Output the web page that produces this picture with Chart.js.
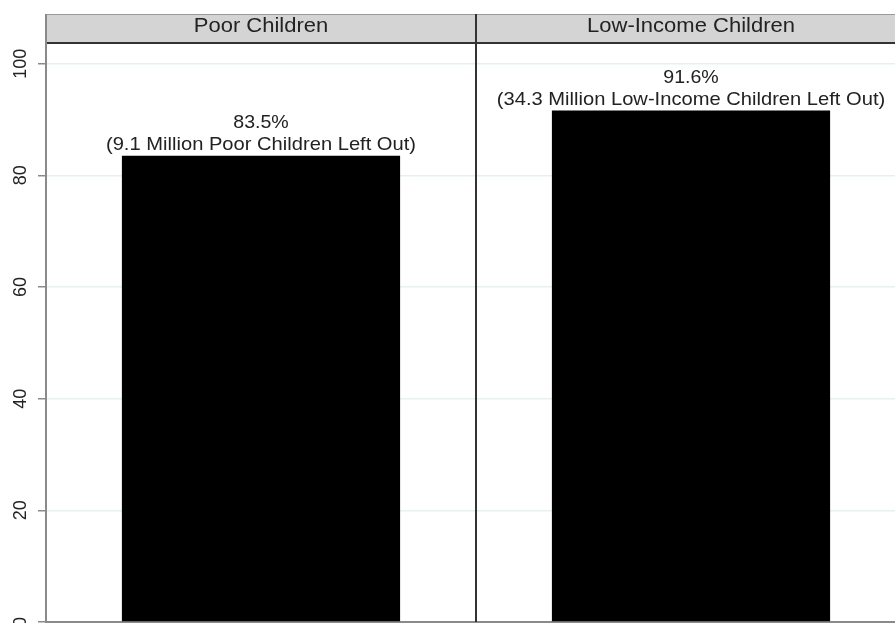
<!DOCTYPE html>
<html>
<head>
<meta charset="utf-8">
<script src="https://cdn.jsdelivr.net/npm/chart.js@4.4.1/dist/chart.umd.min.js"></script>
<style>
  html, body { margin: 0; padding: 0; background: #fff; }
  #wrap { position: absolute; left: 0; top: 0; width: 895px; height: 623px; overflow: hidden; }
  #box { position: absolute; left: 0; top: 0; width: 912px; height: 623px; }
</style>
</head>
<body>
<div id="wrap"><div id="box"><canvas id="c"></canvas></div></div>
<script>
const categories = ["Poor Children", "Low-Income Children"];
const percentLeftOut = [83.5, 91.6];
const millionsLeftOut = ["9.1", "34.3"];
const groupNames = ["Poor", "Low-Income"];
const yTicks = [0, 20, 40, 60, 80, 100];

const FONT = "'Liberation Sans', Arial, sans-serif";

function wideText(ctx, text, x, y, sx) {
  ctx.save();
  ctx.translate(x, y);
  ctx.scale(sx, 1);
  ctx.fillText(text, 0, 0);
  ctx.restore();
}

const panelPlugin = {
  id: 'panels',
  afterDraw(chart) {
    const { ctx, chartArea: ca, scales: { x, y } } = chart;
    const headTop = 14;
    ctx.save();
    // header strip
    ctx.fillStyle = '#d4d4d4';
    ctx.fillRect(ca.left, headTop, ca.right - ca.left, ca.top - headTop);
    ctx.strokeStyle = '#9a9a9a';
    ctx.lineWidth = 1;
    ctx.beginPath(); ctx.moveTo(ca.left, headTop + 0.5); ctx.lineTo(ca.right, headTop + 0.5); ctx.stroke();
    ctx.strokeStyle = '#333';
    ctx.lineWidth = 2;
    ctx.beginPath(); ctx.moveTo(ca.left, ca.top); ctx.lineTo(ca.right, ca.top); ctx.stroke();
    // divider between panels
    const n = categories.length;
    for (let i = 1; i < n; i++) {
      const xd = (x.getPixelForValue(i - 1) + x.getPixelForValue(i)) / 2;
      ctx.strokeStyle = '#333';
      ctx.lineWidth = 2;
      ctx.beginPath(); ctx.moveTo(xd, headTop); ctx.lineTo(xd, ca.bottom); ctx.stroke();
    }
    // left axis line
    ctx.strokeStyle = '#8a8a8a';
    ctx.lineWidth = 2;
    ctx.beginPath(); ctx.moveTo(ca.left, headTop); ctx.lineTo(ca.left, ca.bottom + 1); ctx.stroke();
    // y tick labels (rotated, reading upward)
    ctx.fillStyle = '#222';
    ctx.font = '18px ' + FONT;
    ctx.textAlign = 'center';
    ctx.textBaseline = 'middle';
    yTicks.forEach(v => {
      const py = y.getPixelForValue(v);
      ctx.save();
      ctx.translate(21, py);
      ctx.rotate(-Math.PI / 2);
      ctx.fillText(String(v), 0, 0);
      ctx.restore();
    });
    // header text
    ctx.font = '20px ' + FONT;
    ctx.textBaseline = 'alphabetic';
    categories.forEach((c, i) => {
      wideText(ctx, c, x.getPixelForValue(i), 32, 1.1);
    });
    // bar labels
    const meta = chart.getDatasetMeta(0);
    ctx.font = '19px ' + FONT;
    meta.data.forEach((bar, i) => {
      const v = percentLeftOut[i];
      const top = y.getPixelForValue(v);
      wideText(ctx, '(' + millionsLeftOut[i] + ' Million ' + groupNames[i] + ' Children Left Out)', bar.x, top - 6, 1.06);
      wideText(ctx, v.toFixed(1) + '%', bar.x, top - 28, 1.03);
    });
    ctx.restore();
  }
};

new Chart(document.getElementById('c'), {
  type: 'bar',
  data: {
    labels: categories,
    datasets: [{
      data: percentLeftOut,
      backgroundColor: '#000',
      borderWidth: 0,
      barPercentage: 0.647,
      categoryPercentage: 1
    }]
  },
  options: {
    responsive: true,
    maintainAspectRatio: false,
    animation: false,
    layout: { padding: { top: 43, right: 6, bottom: 1, left: 0 } },
    plugins: { legend: { display: false }, tooltip: { enabled: false } },
    scales: {
      x: {
        display: true,
        afterFit(scale) { scale.height = 0; },
        grid: { display: false, drawTicks: false },
        border: { display: true, color: '#8a8a8a', width: 2 },
        ticks: { display: false }
      },
      y: {
        min: 0,
        max: 103.7,
        afterBuildTicks(scale) { scale.ticks = yTicks.map(v => ({ value: v })); },
        afterFit(scale) { scale.width = 46; },
        grid: { color: '#e6f0f0', lineWidth: 1.5, tickColor: '#8a8a8a', tickLength: 8, tickWidth: 1.5 },
        border: { display: false },
        ticks: { display: false }
      }
    }
  },
  plugins: [panelPlugin]
});
</script>
</body>
</html>
